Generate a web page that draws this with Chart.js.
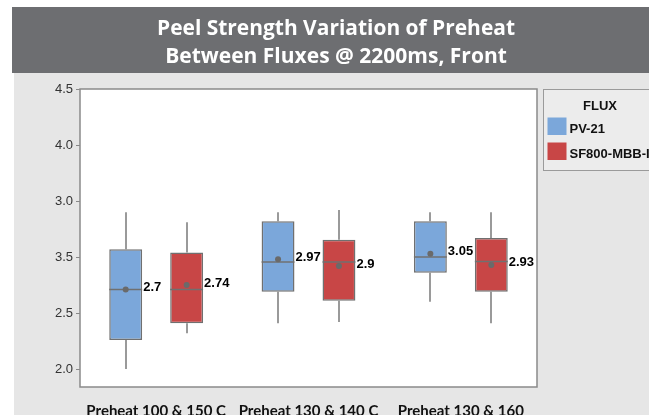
<!DOCTYPE html>
<html>
<head>
<meta charset="utf-8">
<script src="https://cdn.jsdelivr.net/npm/chart.js@4.4.0/dist/chart.umd.min.js"></script>
<style>
html,body{margin:0;padding:0;background:#fff;}
#wrap{width:649px;height:415px;position:relative;}
</style>
</head>
<body>
<div id="wrap"><canvas id="c" width="649" height="415"></canvas></div>
<script>
const titleLines = ['Peel Strength Variation of Preheat', 'Between Fluxes @ 2200ms, Front'];
const categories = ['Preheat 100 & 150 C', 'Preheat 130 & 140 C', 'Preheat 130 & 160'];
const legendTitle = 'FLUX';
const seriesNames = ['PV-21', 'SF800-MBB-I'];
const yTickValues = [2.0, 2.5, 3.0, 3.5, 4.0, 4.5];
const yTickLabels = ['2.0', '2.5', '3.5', '3.0', '4.0', '4.5'];

const pvWhiskerLow  = [2.00, 2.41, 2.60];
const pvQ1          = [2.26, 2.69, 2.86];
const pvMedian      = [2.71, 2.955, 3.00];
const pvQ3          = [3.07, 3.32, 3.32];
const pvWhiskerHigh = [3.40, 3.40, 3.40];
const pvMean        = [2.71, 2.98, 3.03];
const pvMeanLabels  = ['2.7', '2.97', '3.05'];

const sfWhiskerLow  = [2.32, 2.42, 2.41];
const sfQ1          = [2.41, 2.61, 2.69];
const sfMedian      = [2.71, 2.955, 2.96];
const sfQ3          = [3.04, 3.155, 3.17];
const sfWhiskerHigh = [3.31, 3.42, 3.40];
const sfMean        = [2.75, 2.92, 2.93];
const sfMeanLabels  = ['2.74', '2.9', '2.93'];

const colors = ['#7ba7da', '#c84646'];
const lineGray = '#707070';

const stats = [
  {lo: pvWhiskerLow, q1: pvQ1, med: pvMedian, q3: pvQ3, hi: pvWhiskerHigh, mean: pvMean, labels: pvMeanLabels},
  {lo: sfWhiskerLow, q1: sfQ1, med: sfMedian, q3: sfQ3, hi: sfWhiskerHigh, mean: sfMean, labels: sfMeanLabels}
];

const boxPlugin = {
  id: 'boxExtras',
  beforeDraw(chart) {
    const ctx = chart.ctx;
    const ca = chart.chartArea;
    ctx.save();
    ctx.fillStyle = '#ffffff';
    ctx.fillRect(0, 0, chart.width, chart.height);
    ctx.fillStyle = '#e6e6e6';
    ctx.fillRect(14, 73, chart.width - 14, chart.height - 73);
    ctx.fillStyle = '#6d6e71';
    ctx.fillRect(12, 7, chart.width - 12, 66);
    ctx.fillStyle = '#ffffff';
    ctx.fillRect(ca.left, ca.top, ca.right - ca.left, ca.bottom - ca.top);
    // title
    ctx.fillStyle = '#ffffff';
    ctx.font = 'bold 21px "Open Sans", Lato, sans-serif';
    ctx.textAlign = 'center';
    ctx.textBaseline = 'alphabetic';
    ctx.fillText(titleLines[0], 336, 34.5, 358);
    ctx.fillText(titleLines[1], 336, 62.5, 345);
    // legend box
    ctx.fillStyle = '#ececec';
    ctx.fillRect(543.5, 89.5, 120, 81);
    ctx.strokeStyle = '#9a9a9a';
    ctx.lineWidth = 1;
    ctx.strokeRect(543.5, 89.5, 120, 81);
    ctx.fillStyle = '#111';
    ctx.font = 'bold 13px "Liberation Sans", Arial, sans-serif';
    ctx.textAlign = 'center';
    ctx.fillText(legendTitle, 600, 110);
    ctx.textAlign = 'left';
    const sw = [[547.5, 117.5], [547.5, 142.5]];
    seriesNames.forEach((n, i) => {
      ctx.fillStyle = colors[i];
      ctx.fillRect(sw[i][0], sw[i][1], 19, 17.5);
      ctx.fillStyle = '#111';
      ctx.fillText(n, 569.5, sw[i][1] + 15.5);
    });
    ctx.restore();
  },
  beforeDatasetsDraw(chart) {
    const ctx = chart.ctx;
    const y = chart.scales.y;
    ctx.save();
    ctx.strokeStyle = '#7a7a7a';
    ctx.lineWidth = 1.5;
    stats.forEach((s, di) => {
      const meta = chart.getDatasetMeta(di);
      meta.data.forEach((bar, i) => {
        const x = Math.round(bar.x);
        ctx.beginPath();
        ctx.moveTo(x, y.getPixelForValue(s.hi[i]));
        ctx.lineTo(x, y.getPixelForValue(s.q3[i]));
        ctx.moveTo(x, y.getPixelForValue(s.q1[i]));
        ctx.lineTo(x, y.getPixelForValue(s.lo[i]));
        ctx.stroke();
      });
    });
    ctx.restore();
  },
  afterDatasetsDraw(chart) {
    const ctx = chart.ctx;
    const y = chart.scales.y;
    const ca = chart.chartArea;
    ctx.save();
    stats.forEach((s, di) => {
      const meta = chart.getDatasetMeta(di);
      meta.data.forEach((bar, i) => {
        const half = bar.width / 2;
        const my = y.getPixelForValue(s.med[i]);
        ctx.strokeStyle = lineGray;
        ctx.lineWidth = 1.5;
        ctx.beginPath();
        ctx.moveTo(bar.x - half, my);
        ctx.lineTo(bar.x + half, my);
        ctx.stroke();
        const meanY = y.getPixelForValue(s.mean[i]);
        ctx.fillStyle = '#6a6a6a';
        ctx.beginPath();
        ctx.arc(bar.x, meanY, 3, 0, Math.PI * 2);
        ctx.fill();
        ctx.fillStyle = '#000';
        ctx.font = 'bold 13px "Liberation Sans", Arial, sans-serif';
        ctx.textAlign = 'left';
        ctx.textBaseline = 'alphabetic';
        ctx.fillText(s.labels[i], bar.x + half + 1, meanY + 1.5);
      });
    });
    // plot frame
    ctx.strokeStyle = '#8a8a8a';
    ctx.lineWidth = 1.5;
    ctx.strokeRect(ca.left, ca.top, ca.right - ca.left, ca.bottom - ca.top);
    ctx.restore();
  }
};

new Chart(document.getElementById('c'), {
  type: 'bar',
  data: {
    labels: categories,
    datasets: stats.map((s, i) => ({
      label: seriesNames[i],
      data: s.q1.map((v, k) => [v, s.q3[k]]),
      backgroundColor: colors[i],
      borderColor: lineGray,
      borderWidth: 1.5,
      borderSkipped: false,
      categoryPercentage: 0.8,
      barPercentage: 0.54
    }))
  },
  options: {
    responsive: false,
    animation: false,
    devicePixelRatio: 1,
    layout: {padding: {top: 89, right: 112, left: 0, bottom: 0}},
    plugins: {legend: {display: false}, tooltip: {enabled: false}, title: {display: false}},
    scales: {
      x: {
        grid: {display: false},
        border: {display: false},
        afterFit(scale) { scale.height = 28; },
        ticks: {
          color: '#111',
          padding: 7,
          maxRotation: 0,
          autoSkip: false,
          font: {family: 'Lato, "Open Sans", sans-serif', weight: 'bold', size: 15}
        }
      },
      y: {
        min: 1.84,
        max: 4.5,
        afterFit(scale) { scale.width = 80; },
        afterBuildTicks(scale) { scale.ticks = yTickValues.map(v => ({value: v})); },
        border: {display: false},
        grid: {drawOnChartArea: false, drawTicks: true, tickLength: 4, color: '#888', lineWidth: 1},
        ticks: {
          padding: 3,
          color: '#333',
          font: {family: '"Liberation Sans", Arial, sans-serif', size: 13},
          callback: (v, idx) => yTickLabels[idx]
        }
      }
    }
  },
  plugins: [boxPlugin]
});
</script>
</body>
</html>
